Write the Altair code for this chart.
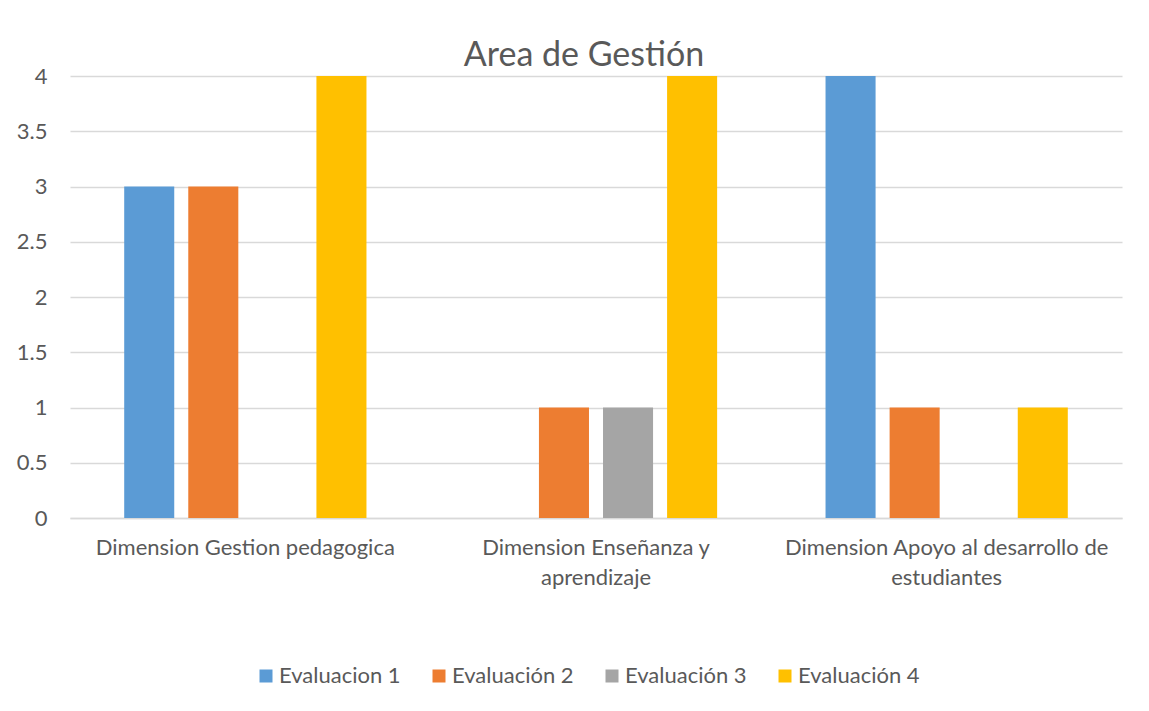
import altair as alt
import pandas as pd

categories = ["Dimension Gestion pedagogica", "Dimension Enseñanza y aprendizaje", "Dimension Apoyo al desarrollo de estudiantes"]
series = ["Evaluacion 1", "Evaluación 2", "Evaluación 3", "Evaluación 4"]
eval1 = [3, 0, 4]
eval2 = [3, 1, 1]
eval3 = [0, 1, 0]
eval4 = [4, 4, 1]
colors = ["#5B9BD5", "#ED7D31", "#A5A5A5", "#FFC000"]
y_ticks = [0, 0.5, 1, 1.5, 2, 2.5, 3, 3.5, 4]

rows = []
for s, vals in zip(series, [eval1, eval2, eval3, eval4]):
    for c, v in zip(categories, vals):
        rows.append({"cat": c, "serie": s, "valor": v})
df = pd.DataFrame(rows)

FONT = "Lato"
TXT = "#595959"

label_expr = ("datum.value == 'Dimension Enseñanza y aprendizaje' ? ['Dimension Enseñanza y', 'aprendizaje'] : "
              "datum.value == 'Dimension Apoyo al desarrollo de estudiantes' ? ['Dimension Apoyo al desarrollo de', 'estudiantes'] : datum.value")

chart = alt.Chart(df).mark_bar().encode(
    x=alt.X("cat:N", sort=categories, title=None,
            scale=alt.Scale(paddingInner=0, paddingOuter=0),
            axis=alt.Axis(labelAngle=0, labelExpr=label_expr, labelFontSize=22, labelColor=TXT,
                          labelFont=FONT, labelPadding=19, labelLineHeight=30, ticks=False,
                          domainColor="#D9D9D9", domainWidth=1.5, labelLimit=400)),
    xOffset=alt.XOffset("serie:N", sort=series,
                        scale=alt.Scale(paddingInner=0.219, paddingOuter=0.846)),
    y=alt.Y("valor:Q", title=None,
            scale=alt.Scale(domain=[0, 4], nice=False),
            axis=alt.Axis(values=y_ticks, format="~g", labelFontSize=22, labelColor=TXT, labelFont=FONT,
                          labelPadding=23, ticks=False, domain=False, gridColor="#D9D9D9",
                          gridWidth=1.3, labelFlush=False)),
    color=alt.Color("serie:N", sort=series, scale=alt.Scale(domain=series, range=colors),
                    legend=alt.Legend(title=None, orient="none", direction="horizontal",
                                      legendX=185, legendY=589, symbolType="square",
                                      symbolSize=169, symbolStrokeWidth=0, labelFontSize=22,
                                      labelColor=TXT, labelFont=FONT, columnPadding=27,
                                      labelOffset=2)),
).properties(
    width=1052,
    height=442,
    title=alt.TitleParams("Area de Gestión", fontSize=34, font=FONT, color=TXT,
                          fontWeight="normal", anchor="middle", offset=-8, dx=-12),
    padding={"left": 62, "top": 68, "right": 10, "bottom": 175},
    autosize=alt.AutoSizeParams(type="none"),
).configure_view(stroke=None)

chart.save("out.html", embed_options={"renderer": "svg", "actions": False})
